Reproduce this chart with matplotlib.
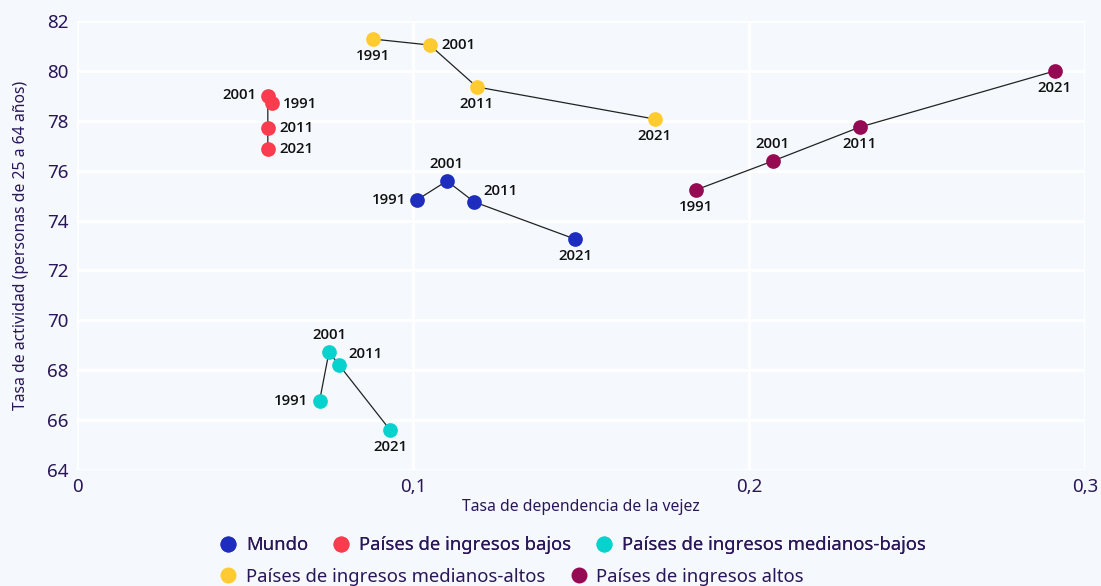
import matplotlib
matplotlib.use("Agg")
import matplotlib.pyplot as plt
from matplotlib.lines import Line2D
from matplotlib.ticker import FuncFormatter

plt.rcParams['font.family'] = ['Noto Sans', 'DejaVu Sans']

years = ["1991", "2001", "2011", "2021"]
series_names = ["Mundo", "Países de ingresos bajos", "Países de ingresos medianos-bajos",
                "Países de ingresos medianos-altos", "Países de ingresos altos"]
mundo_x = [0.1012, 0.1101, 0.1182, 0.1482]
mundo_y = [74.83, 75.59, 74.75, 73.26]
bajos_x = [0.0580, 0.0568, 0.0568, 0.0568]
bajos_y = [78.72, 79.00, 77.71, 76.87]
mb_x = [0.0722, 0.0750, 0.0780, 0.0932]
mb_y = [66.77, 68.73, 68.21, 65.60]
ma_x = [0.0881, 0.1050, 0.1190, 0.1720]
ma_y = [81.28, 81.04, 79.36, 78.07]
altos_x = [0.1842, 0.2071, 0.2330, 0.2910]
altos_y = [75.23, 76.39, 77.75, 80.00]

colors = ["#1f2dbf", "#fb3c4e", "#08d2cd", "#ffcb30", "#950a52"]

# label placement (offset points, ha, va)
L = (-8, 0, 'right', 'center')
R = (8, 0, 'left', 'center')
A = (0, 7, 'center', 'bottom')
B = (0, -7, 'center', 'top')
AR = (7, 8, 'left', 'center')
label_pos = [
    [L, A, AR, B],
    [(8, -1, 'left', 'center'), (-8, 1, 'right', 'center'), R, R],
    [L, A, AR, B],
    [B, R, B, B],
    [B, A, B, B],
]

xs = [mundo_x, bajos_x, mb_x, ma_x, altos_x]
ys = [mundo_y, bajos_y, mb_y, ma_y, altos_y]

bg = "#f5f9fd"
txt = "#2a1659"
fig = plt.figure(figsize=(11.01, 5.86), dpi=100, facecolor=bg)
ax = fig.add_axes([0.0699, 0.198, 0.9156, 0.766], facecolor=bg)

for x, y, c, pos in zip(xs, ys, colors, label_pos):
    ax.plot(x, y, color="#222222", lw=0.9, zorder=2)
    ax.scatter(x, y, s=112, color=c, zorder=3, linewidths=0)
    for xi, yi, yr, (dx, dy, ha, va) in zip(x, y, years, pos):
        ax.annotate(yr, (xi, yi), xytext=(dx, dy), textcoords='offset points',
                    ha=ha, va=va, fontsize=10.8, fontweight=600, color="#111111", zorder=4,
                    family=['Open Sans', 'Noto Sans', 'DejaVu Sans'])

ax.set_xlim(0, 0.3)
ax.set_ylim(64, 82)
ax.set_xticks([0, 0.1, 0.2, 0.3])
ax.set_yticks(range(64, 83, 2))
ax.xaxis.set_major_formatter(FuncFormatter(lambda v, p: "0" if v == 0 else f"{v:.1f}".replace('.', ',')))
ax.grid(True, color="white", lw=2)
ax.set_axisbelow(True)
for s in ax.spines.values():
    s.set_visible(False)
ax.tick_params(length=0, labelsize=13.5, colors=txt, pad=6)
ax.set_xlabel("Tasa de dependencia de la vejez", fontsize=11.3, color=txt, labelpad=2)
ax.set_ylabel("Tasa de actividad (personas de 25 a 64 años)", fontsize=11.3, color=txt, labelpad=13)

handles = [Line2D([], [], marker='o', ls='', ms=11.5, color=c, markeredgewidth=0) for c in colors]
kw = dict(loc='center left', frameon=False, fontsize=13.3, handletextpad=0.45, columnspacing=1.3,
          handlelength=1.0, labelcolor=txt, borderpad=0, borderaxespad=0)
leg1 = fig.legend(handles[:3], series_names[:3], bbox_to_anchor=(0.199, 0.07), ncol=3, **kw)
leg2 = fig.legend(handles[3:], series_names[3:], bbox_to_anchor=(0.199, 0.016), ncol=2, **kw)
fig.add_artist(leg1)

fig.savefig("out.png", dpi=100, facecolor=bg)
